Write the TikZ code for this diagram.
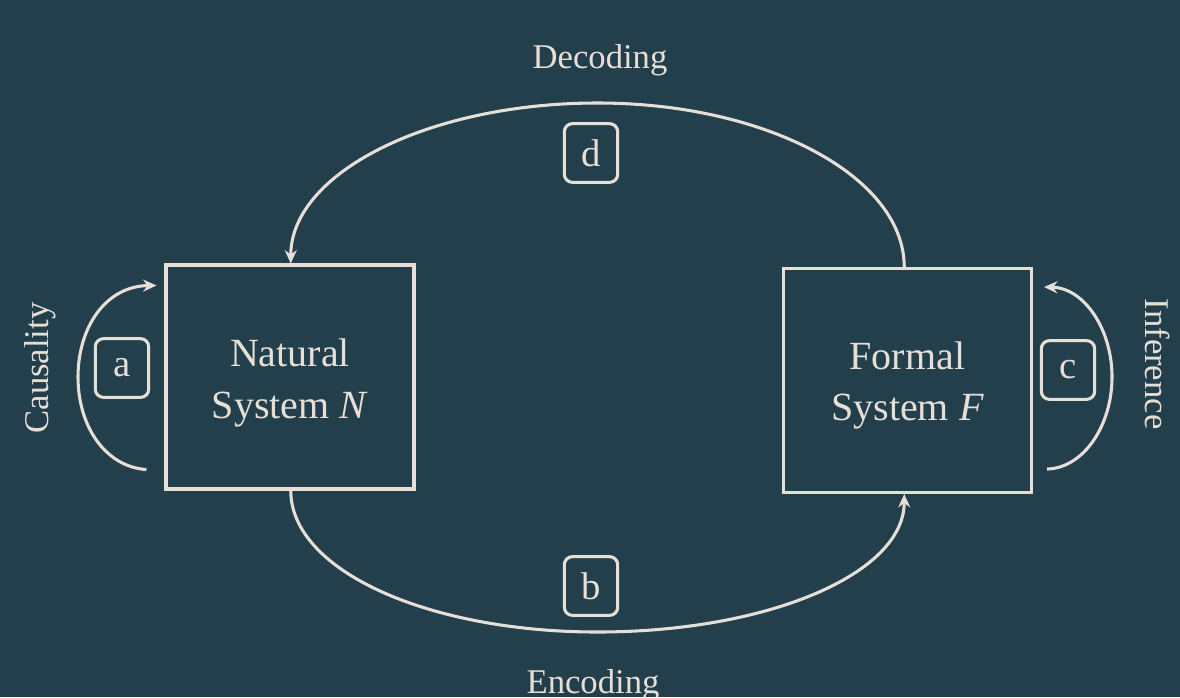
\documentclass[tikz,border=0pt]{standalone}
\usepackage{fontspec}
\setmainfont{Liberation Serif}
\usetikzlibrary{arrows.meta,calc}
\definecolor{bg}{HTML}{223F4B}
\definecolor{fg}{HTML}{E6DFD8}
\begin{document}
\begin{tikzpicture}[x=0.75pt,y=-0.75pt,
  sysbox/.style={draw=fg,line width=2.3pt,minimum width=186pt,minimum height=168pt},
  systext/.style={align=center,text=fg,font=\fontsize{30}{38.5}\selectfont,inner sep=0pt},
  tagbox/.style={draw=fg,line width=2.3pt,rounded corners=6pt,minimum width=40pt,minimum height=44pt,inner sep=0pt,text=fg,font=\fontsize{29}{30}\selectfont},
  lbl/.style={text=fg,font=\fontsize{26}{30}\selectfont,inner sep=0pt},
  conn/.style={draw=fg,line width=2.3pt,-{Stealth[length=10pt,width=9pt]}}]
\fill[bg] (0,0) rectangle (1180,697);
\useasboundingbox (0,0) rectangle (1180,697);
\node[sysbox] (N) at (290,377) {};
\node[systext] (Nt) at ($(N.center)+(0,6)$) {Natural\\System \textit{N}};
\node[sysbox] (F) at (907.5,380.5) {};
\node[systext] (Ft) at ($(F.center)+(0,5)$) {Formal\\System \textit{F}};
\node[tagbox] (a) at (122,368) {a};
\node[tagbox] (c) at (1068,370) {c};
\node[tagbox] (d) at (591,153) {d};
\node[tagbox] (b) at (591,586) {b};
\node[lbl] (dec) at (600,60) {Decoding};
\node[lbl] (enc) at (593,685) {Encoding};
\node[lbl,rotate=90] (caus) at (40,368) {Causality};
\node[lbl,rotate=-90] (inf) at (1158,364) {Inference};
\coordinate (ftop) at ($(F.north west)!0.487!(F.north east)$);
\coordinate (fbot) at ($(F.south west)!0.487!(F.south east)$);
\coordinate (ntop) at ($(N.north west)!0.503!(N.north east)$);
\coordinate (nbot) at ($(N.south west)!0.503!(N.south east)$);
% decoding
\draw[conn] (ftop) .. controls ($(ftop)+(0,-90)$) and (767,103) .. (597.5,103)
  .. controls (428,103) and ($(ntop)+(0,-90)$) .. (ntop);
% encoding
\draw[conn] (nbot) .. controls ($(nbot)+(0,80)$) and (428,632) .. (597.5,632)
  .. controls (767,632) and ($(fbot)+(0,80)$) .. (fbot);
% causality
\coordinate (a1) at ($(N.south west)+(-18,-21)$);
\coordinate (a2) at ($(N.north west)+(-8,22)$);
\draw[conn] (a1) .. controls (106,467) and (78,427) .. (78,377)
  .. controls (78,327) and (106,286) .. (a2);
% inference
\coordinate (c1) at ($(F.south east)+(14,-25)$);
\coordinate (c2) at ($(F.north east)+(11,20)$);
\draw[conn] (c1) .. controls (1084,468) and (1112,425) .. (1112,377)
  .. controls (1112,329) and (1084,288) .. (c2);
\end{tikzpicture}
\end{document}
